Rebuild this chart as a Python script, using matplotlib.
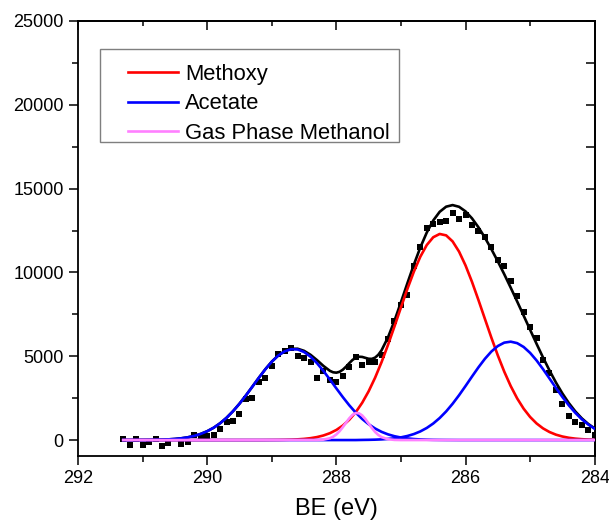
import numpy as np
import matplotlib
matplotlib.use("Agg")
import matplotlib.pyplot as plt
from matplotlib.ticker import MultipleLocator, NullFormatter
from matplotlib.patches import Rectangle

# --- measured spectrum (black squares) ---
be_pts = [291.3, 291.2, 291.1, 291.0, 290.9, 290.8, 290.7, 290.6, 290.4, 290.3,
          290.2, 290.1, 290.0, 289.9, 289.8, 289.7, 289.6, 289.5, 289.4, 289.3,
          289.2, 289.1, 289.0, 288.9, 288.8, 288.7, 288.6, 288.5, 288.4, 288.3,
          288.2, 288.1, 288.0, 287.9, 287.8, 287.7, 287.6, 287.5, 287.4, 287.3,
          287.2, 287.1, 287.0, 286.9, 286.8, 286.7, 286.6, 286.5, 286.4, 286.3,
          286.2, 286.1, 286.0, 285.9, 285.8, 285.7, 285.6, 285.5, 285.4, 285.3,
          285.2, 285.1, 285.0, 284.9, 284.8, 284.7, 284.6, 284.5, 284.4, 284.3,
          284.2, 284.1, 284.0]
counts = [40, -300, 80, -280, -110, 80, -340, -190, -240, -140,
          300, 200, 240, 320, 640, 1090, 1150, 1570, 2430, 2490,
          3480, 3730, 4430, 5150, 5330, 5470, 5040, 4880, 4640, 3730,
          4100, 3610, 3480, 3830, 4340, 4950, 4460, 4650, 4630, 5090,
          6030, 7100, 8070, 8670, 10400, 11500, 12630, 12870, 13020, 13090,
          13560, 13210, 13410, 12850, 12450, 12130, 11530, 10750, 10380, 9480,
          8600, 7640, 6740, 6110, 4800, 4020, 3000, 2170, 1410, 1080,
          905, 620, 330]

# --- fitted components, 0.1 eV grid from 291.3 down to 284.0 ---
be_fit = np.round(np.linspace(291.3, 284.0, 74), 2)
methoxy = [0] * 22 + [
    2, 5, 8, 15, 25, 43, 70, 113, 178, 273, 410, 603,
    864, 1211, 1659, 2223, 2909, 3720, 4649, 5679, 6779, 7908,
    9015, 10043, 10935, 11635, 12098, 12294, 12210, 11850, 11240, 10418,
    9439, 8355, 7229, 6112, 5050, 4079, 3219, 2482, 1871, 1378,
    992, 697, 480, 322, 212, 136, 85, 52, 31, 18]
acetate_1 = [
    1, 1, 2, 4, 8, 14, 24, 41, 66, 106, 164, 249, 366, 526,
    735, 1002, 1330, 1721, 2169, 2664, 3188, 3716, 4221, 4672,
    5038, 5293, 5419, 5405, 5252, 4973, 4588, 4124, 3612, 3082,
    2563, 2075, 1638, 1260, 944, 689, 490, 339, 229, 151,
    97, 60, 37, 22, 12, 7, 4, 2] + [0] * 22
acetate_2 = [0] * 37 + [
    8, 14, 24, 40, 65, 104, 161,
    243, 358, 515, 722, 987, 1315, 1708, 2165, 2675, 3223,
    3787, 4338, 4846, 5280, 5609, 5811, 5869, 5781, 5553, 5201,
    4750, 4230, 3674, 3111, 2569, 2069, 1624, 1244, 929, 676]

be_gas = [291.3, 288.3, 288.2, 288.1, 288.05, 288.0, 287.95, 287.9, 287.85, 287.8,
          287.75, 287.7, 287.65, 287.6, 287.55, 287.5, 287.45, 287.4, 287.35, 287.3,
          287.2, 287.1, 287.0, 284.0]
gas_methanol = [0, 4, 25, 107, 197, 335, 528, 769, 1039, 1298,
                1502, 1610, 1598, 1468, 1249, 984, 718, 485, 303, 176,
                47, 9, 0, 0]

# --- total envelope ---
be_env = [291.3, 291.2, 291.1, 291.0, 290.9, 290.8, 290.7, 290.6, 290.5, 290.4,
          290.3, 290.2, 290.1, 290.0, 289.9, 289.8, 289.7, 289.6, 289.5, 289.4,
          289.3, 289.2, 289.1, 289.0, 288.9, 288.8, 288.7, 288.6, 288.5, 288.4,
          288.3, 288.2, 288.1, 288.05, 288.0, 287.95, 287.9, 287.85, 287.8, 287.75,
          287.7, 287.65, 287.6, 287.55, 287.5, 287.45, 287.4, 287.35, 287.3, 287.2,
          287.1, 287.0, 286.9, 286.8, 286.7, 286.6, 286.5, 286.4, 286.3, 286.2,
          286.1, 286.0, 285.9, 285.8, 285.7, 285.6, 285.5, 285.4, 285.3, 285.2,
          285.1, 285.0, 284.9, 284.8, 284.7, 284.6, 284.5, 284.4, 284.3, 284.2,
          284.1, 284.0]
envelope = [1, 1, 2, 4, 8, 14, 24, 41, 66, 106,
            164, 249, 366, 526, 735, 1002, 1330, 1721, 2169, 2664,
            3188, 3716, 4223, 4677, 5046, 5308, 5444, 5448, 5322, 5086,
            4770, 4422, 4129, 4042, 4020, 4071, 4197, 4378, 4587, 4778,
            4912, 4971, 4959, 4903, 4849, 4843, 4918, 5088, 5355, 6130,
            7121, 8220, 9355, 10461, 11487, 12379, 13097, 13616, 13922, 14017,
            13915, 13641, 13226, 12693, 12075, 11392, 10659, 9890, 9088, 8263,
            7424, 6579, 5742, 4927, 4154, 3433, 2781, 2205, 1709, 1296,
            960, 694]

plt.rcParams['font.family'] = ['Liberation Sans', 'DejaVu Sans']

fig = plt.figure(figsize=(6.09, 5.24), dpi=100)
ax = fig.add_axes([0.1281, 0.1298, 0.8484, 0.8302])

ax.plot(be_pts, counts, 's', color='black', ms=3.8, mew=0, zorder=2)
ax.plot(be_env, envelope, color='black', lw=1.9, zorder=3)
l_red, = ax.plot(be_fit, methoxy, color='#ff0000', lw=1.9, zorder=4)
l_blue, = ax.plot(be_fit, acetate_1, color='#0000ff', lw=1.9, zorder=5)
ax.plot(be_fit, acetate_2, color='#0000ff', lw=1.9, zorder=5)
l_pink, = ax.plot(be_gas, gas_methanol, color='#ff80ff', lw=1.9, zorder=6)

ax.set_xlim(292, 284)
ax.set_ylim(-950, 25000)
ax.xaxis.set_major_locator(MultipleLocator(2))
ax.xaxis.set_minor_locator(MultipleLocator(1))
ax.yaxis.set_major_locator(MultipleLocator(5000))
ax.yaxis.set_minor_locator(MultipleLocator(2500))
ax.tick_params(which='both', direction='out', width=1.1, labelsize=13, pad=4)
ax.tick_params(which='major', length=6.3)
ax.tick_params(which='minor', length=4)
for s in ax.spines.values():
    s.set_linewidth(1.3)

# top / right axes with inward ticks, no labels
secx = ax.secondary_xaxis('top')
secx.xaxis.set_major_locator(MultipleLocator(2))
secx.xaxis.set_minor_locator(MultipleLocator(1))
secx.xaxis.set_major_formatter(NullFormatter())
secx.tick_params(which='both', direction='in', width=1.1)
secx.tick_params(which='major', length=6.3)
secx.tick_params(which='minor', length=3.5)
secy = ax.secondary_yaxis('right')
secy.yaxis.set_major_locator(MultipleLocator(5000))
secy.yaxis.set_minor_locator(MultipleLocator(2500))
secy.yaxis.set_major_formatter(NullFormatter())
secy.tick_params(which='both', direction='in', width=1.1)
secy.tick_params(which='major', length=6.3)
secy.tick_params(which='minor', length=6.3)
for sec in (secx, secy):
    for s in sec.spines.values():
        s.set_linewidth(1.3)

ax.set_xlabel('BE (eV)', fontsize=17, labelpad=8)

ax.legend([l_red, l_blue, l_pink], ['Methoxy', 'Acetate', 'Gas Phase Methanol'],
          loc='upper left', bbox_to_anchor=(0.0968, 0.902), frameon=False,
          borderpad=0, borderaxespad=0, handlelength=2.3, handletextpad=0.3,
          labelspacing=0.4, fontsize=15.8)
ax.add_patch(Rectangle((0.0426, 0.7218), 0.5786, 0.2138, transform=ax.transAxes,
                       fill=False, ec='#7f7f7f', lw=1.0, zorder=7))

fig.savefig('out.png', dpi=100)
